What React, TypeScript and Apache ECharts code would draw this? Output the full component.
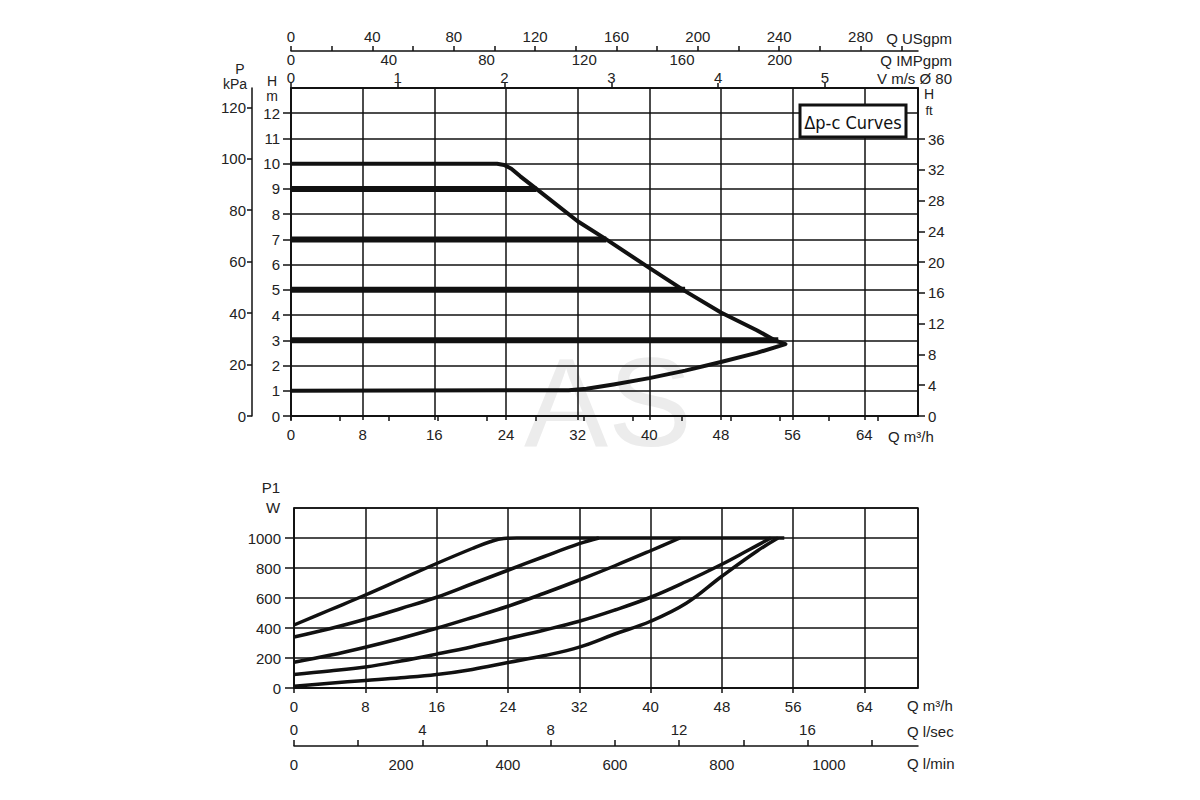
import React, { useEffect, useRef } from "react";
import * as echarts from "echarts";

// ---- top chart: Δp-c curves, head H [m] over flow Q [m3/h] ----
// max curve: flat 10 m, bends down to the tip, then back along the lower curve to 1 m
const maxCurveQ = [0, 23, 23.8, 24.6, 25.6, 27.4, 32, 35.2, 40, 44, 48, 52, 54, 55.2, 52, 48, 44, 40, 36, 33, 31, 0];
const maxCurveH = [10, 10, 9.95, 9.8, 9.5, 9.0, 7.72, 7.0, 5.87, 4.95, 4.1, 3.4, 3.0, 2.85, 2.5, 2.14, 1.8, 1.5, 1.25, 1.08, 1.02, 1.0];
// setpoint lines
const setpointH = [9, 7, 5, 3];
const setpointEndQ = [27.4, 35.2, 44, 54.4];

// ---- bottom chart: power P1 [W] over flow Q [m3/h] ----
const p1AQ = [0, 4, 8, 12, 16, 20, 22, 23.5, 25, 55];
const p1AW = [420, 520, 620, 725, 830, 930, 975, 997, 1000, 1000];
const p1BQ = [0, 4, 8, 12, 16, 20, 24, 28, 32, 34.2];
const p1BW = [340, 395, 458, 530, 605, 695, 785, 875, 962, 1000];
const p1CQ = [0, 4, 8, 12, 16, 20, 24, 28, 32, 36, 40, 43.3];
const p1CW = [172, 218, 272, 332, 398, 470, 545, 630, 720, 815, 915, 1000];
const p1DQ = [0, 4, 8, 12, 16, 20, 24, 28, 32, 36, 40, 44, 48, 51, 53.5];
const p1DW = [90, 113, 140, 180, 226, 275, 330, 385, 445, 520, 605, 710, 825, 920, 1000];
const p1EQ = [0, 4, 8, 12, 16, 20, 24, 28, 32, 36, 40, 44, 48, 52, 54.3];
const p1EW = [12, 32, 50, 68, 90, 124, 170, 215, 272, 360, 445, 565, 745, 915, 1000];

// ---- tick labels of the secondary scales ----
const usgpmTicks = [0, 20, 40, 60, 80, 100, 120, 140, 160, 180, 200, 220, 240, 260, 280, 300];
const usgpmLabels = [0, 40, 80, 120, 160, 200, 240, 280];
const impgpmTicks = [0, 20, 40, 60, 80, 100, 120, 140, 160, 180, 200, 220, 240];
const impgpmLabels = [0, 40, 80, 120, 160, 200];
const velocityLabels = [0, 1, 2, 3, 4, 5];
const kpaLabels = [0, 20, 40, 60, 80, 100, 120];
const ftLabels = [0, 4, 8, 12, 16, 20, 24, 28, 32, 36];
const lsecTicks = [0, 2, 4, 6, 8, 10, 12, 14, 16, 18];
const lsecLabels = [0, 4, 8, 12, 16];
const lminLabels = [0, 200, 400, 600, 800, 1000];

// unit conversions (to m3/h or m)
const M3H_PER_USGPM = 0.2271;
const M3H_PER_IMPGPM = 0.2728;
const M3H_PER_MS = 11.92; // velocity scale as printed (Ø 80)
const M_PER_KPA = 0.10197;
const M_PER_FT = 0.3048;
const M3H_PER_LSEC = 3.6;
const M3H_PER_LMIN = 0.06;

const Q_MAX = 70;
const H_MAX = 13;
const P_MAX = 1200;

const FONT = '"Liberation Sans", Arial, sans-serif';
const INK = "#111";
const TEXT = "#222";

const zip = (a: number[], b: number[]) => a.map((v, i) => [v, b[i]]);
const plain = (v: number) => String(Math.round(v));

const axisLine = { show: true, onZero: false, lineStyle: { color: INK, width: 1.5 } };
const tickStyle = { color: INK, width: 1.5 };
const labelStyle = { color: TEXT, fontSize: 15, fontFamily: FONT, formatter: plain };
const gridLines = { show: true, lineStyle: { color: INK, width: 1.5 } };

const txt = (text: string, x: number, y: number, align = "center", size = 15) => ({
  type: "text",
  x,
  y,
  silent: true,
  style: {
    text,
    fontSize: size,
    fontFamily: FONT,
    fill: TEXT,
    align,
    textAlign: align,
    verticalAlign: "middle",
    textVerticalAlign: "middle",
  },
});

const App: React.FC = () => {
  const chartRef = useRef<HTMLDivElement>(null);

  useEffect(() => {
    if (!chartRef.current) return;
    const chart = echarts.init(chartRef.current, null, { renderer: "svg" });

    const curve = (data: number[][], x: number, y: number, width: number, smooth: number | boolean = false) => ({
      type: "line",
      xAxisIndex: x,
      yAxisIndex: y,
      data,
      smooth,
      symbol: "none",
      showSymbol: false,
      lineStyle: { color: INK, width, join: "round", cap: "butt" },
      z: 5,
    });

    const options = {
      animation: false,
      textStyle: { fontFamily: FONT },
      grid: [
        { left: 291, right: 282, top: 88, bottom: 384, show: true, borderColor: INK, borderWidth: 1.5 },
        { left: 294, right: 282, top: 508, bottom: 112, show: true, borderColor: INK, borderWidth: 1.5 },
      ],
      xAxis: [
        {
          type: "value", gridIndex: 0, position: "bottom", min: 0, max: Q_MAX, interval: 8,
          axisLine, axisTick: { show: true, length: 4, lineStyle: tickStyle },
          axisLabel: { ...labelStyle, margin: 11, showMaxLabel: false }, splitLine: gridLines,
        },
        {
          type: "value", gridIndex: 0, position: "top", min: 0, max: Q_MAX / M3H_PER_MS,
          axisLine, axisTick: { show: true, length: 5, lineStyle: tickStyle, customValues: velocityLabels },
          axisLabel: { ...labelStyle, margin: 3, customValues: velocityLabels }, splitLine: { show: false },
        },
        {
          type: "value", gridIndex: 0, position: "top", offset: 37, min: 0, max: Q_MAX / M3H_PER_USGPM,
          axisLine, axisTick: { show: true, length: 5, lineStyle: tickStyle, customValues: usgpmTicks },
          axisLabel: { ...labelStyle, margin: 7, customValues: usgpmLabels }, splitLine: { show: false },
        },
        {
          type: "value", gridIndex: 0, position: "top", offset: 37, min: 0, max: Q_MAX / M3H_PER_IMPGPM,
          axisLine: { show: false },
          axisTick: { show: true, inside: true, length: 5, lineStyle: tickStyle, customValues: impgpmTicks },
          axisLabel: { ...labelStyle, inside: true, margin: 1, customValues: impgpmLabels }, splitLine: { show: false },
        },
        {
          type: "value", gridIndex: 1, position: "bottom", min: 0, max: Q_MAX, interval: 8,
          axisLine, axisTick: { show: true, length: 5, lineStyle: tickStyle },
          axisLabel: { ...labelStyle, margin: 11, showMaxLabel: false }, splitLine: gridLines,
        },
        {
          type: "value", gridIndex: 1, position: "bottom", offset: 58, min: 0, max: Q_MAX / M3H_PER_LSEC,
          axisLine,
          axisTick: { show: true, inside: true, length: 6, lineStyle: tickStyle, customValues: lsecTicks },
          axisLabel: { ...labelStyle, inside: true, margin: 9, customValues: lsecLabels }, splitLine: { show: false },
        },
        {
          type: "value", gridIndex: 1, position: "bottom", offset: 58, min: 0, max: Q_MAX / M3H_PER_LMIN,
          axisLine: { show: false }, axisTick: { show: false },
          axisLabel: { ...labelStyle, margin: 11, customValues: lminLabels }, splitLine: { show: false },
        },
      ],
      yAxis: [
        {
          type: "value", gridIndex: 0, position: "left", min: 0, max: H_MAX, interval: 1,
          axisLine, axisTick: { show: true, length: 8, lineStyle: tickStyle },
          axisLabel: { ...labelStyle, margin: 11, showMaxLabel: false }, splitLine: gridLines,
        },
        {
          type: "value", gridIndex: 0, position: "left", offset: 39, min: 0, max: H_MAX / M_PER_KPA,
          axisLine, axisTick: { show: true, length: 5, lineStyle: tickStyle, customValues: kpaLabels },
          axisLabel: { ...labelStyle, margin: 6, customValues: kpaLabels }, splitLine: { show: false },
        },
        {
          type: "value", gridIndex: 0, position: "right", min: 0, max: H_MAX / M_PER_FT,
          axisLine, axisTick: { show: true, length: 7, lineStyle: tickStyle, customValues: ftLabels },
          axisLabel: { ...labelStyle, margin: 10, customValues: ftLabels }, splitLine: { show: false },
        },
        {
          type: "value", gridIndex: 1, position: "left", min: 0, max: P_MAX, interval: 200,
          axisLine, axisTick: { show: true, length: 9, lineStyle: tickStyle },
          axisLabel: { ...labelStyle, margin: 13, showMaxLabel: false }, splitLine: gridLines,
        },
      ],
      series: [
        ...setpointH.map((h, i) => curve([[0, h], [setpointEndQ[i], h]], 0, 0, 6)),
        curve(zip(maxCurveQ, maxCurveH), 0, 0, 4),
        curve(zip(p1AQ, p1AW), 4, 3, 3.5, 0.4),
        curve(zip(p1BQ, p1BW), 4, 3, 3.5, 0.4),
        curve(zip(p1CQ, p1CW), 4, 3, 3.5, 0.4),
        curve(zip(p1DQ, p1DW), 4, 3, 3.5, 0.4),
        curve(zip(p1EQ, p1EW), 4, 3, 3.5, 0.4),
      ],
      graphic: [
        {
          type: "text", x: 608, y: 402, z: -10, silent: true,
          style: {
            text: "AS", fontSize: 126, fontFamily: FONT, fill: "#ececec",
            align: "center", textAlign: "center", verticalAlign: "middle", textVerticalAlign: "middle",
          },
        },
        // top scale names
        txt("Q USgpm", 952, 38, "right"),
        txt("Q IMPgpm", 952, 60, "right"),
        txt("V m/s Ø 80", 952, 78, "right"),
        txt("P", 240, 69, "center", 14),
        txt("kPa", 235, 84, "center", 14),
        txt("H", 272, 81, "center", 14),
        txt("m", 272, 96, "center", 14),
        txt("H", 929, 94, "center", 14),
        txt("ft", 929, 110, "center", 13),
        txt("Q m³/h", 888, 436, "left"),
        // Δp-c label box
        {
          type: "rect", z: 10,
          shape: { x: 800, y: 105, width: 106, height: 32 },
          style: { fill: "#fff", stroke: INK, lineWidth: 3 },
        },
        {
          type: "text", x: 853, y: 122, z: 11, silent: true,
          style: {
            text: "Δp-c Curves", fontSize: 18,
            fontFamily: '"Liberation Sans Narrow", "DejaVu Sans Condensed", sans-serif', fill: INK,
            align: "center", textAlign: "center", verticalAlign: "middle", textVerticalAlign: "middle",
          },
        },
        // bottom scale names
        txt("P1", 271, 487),
        txt("W", 273, 507),
        txt("Q m³/h", 907, 705, "left"),
        txt("Q l/sec", 907, 731, "left"),
        txt("Q l/min", 907, 763, "left"),
      ],
    };

    chart.setOption(options);

    return () => {
      chart.dispose();
    };
  }, []);

  return (
    <div
      ref={chartRef}
      style={{ position: "fixed", left: 0, top: 0, width: "1200px", height: "800px", background: "#fff" }}
    />
  );
};

export default App;
